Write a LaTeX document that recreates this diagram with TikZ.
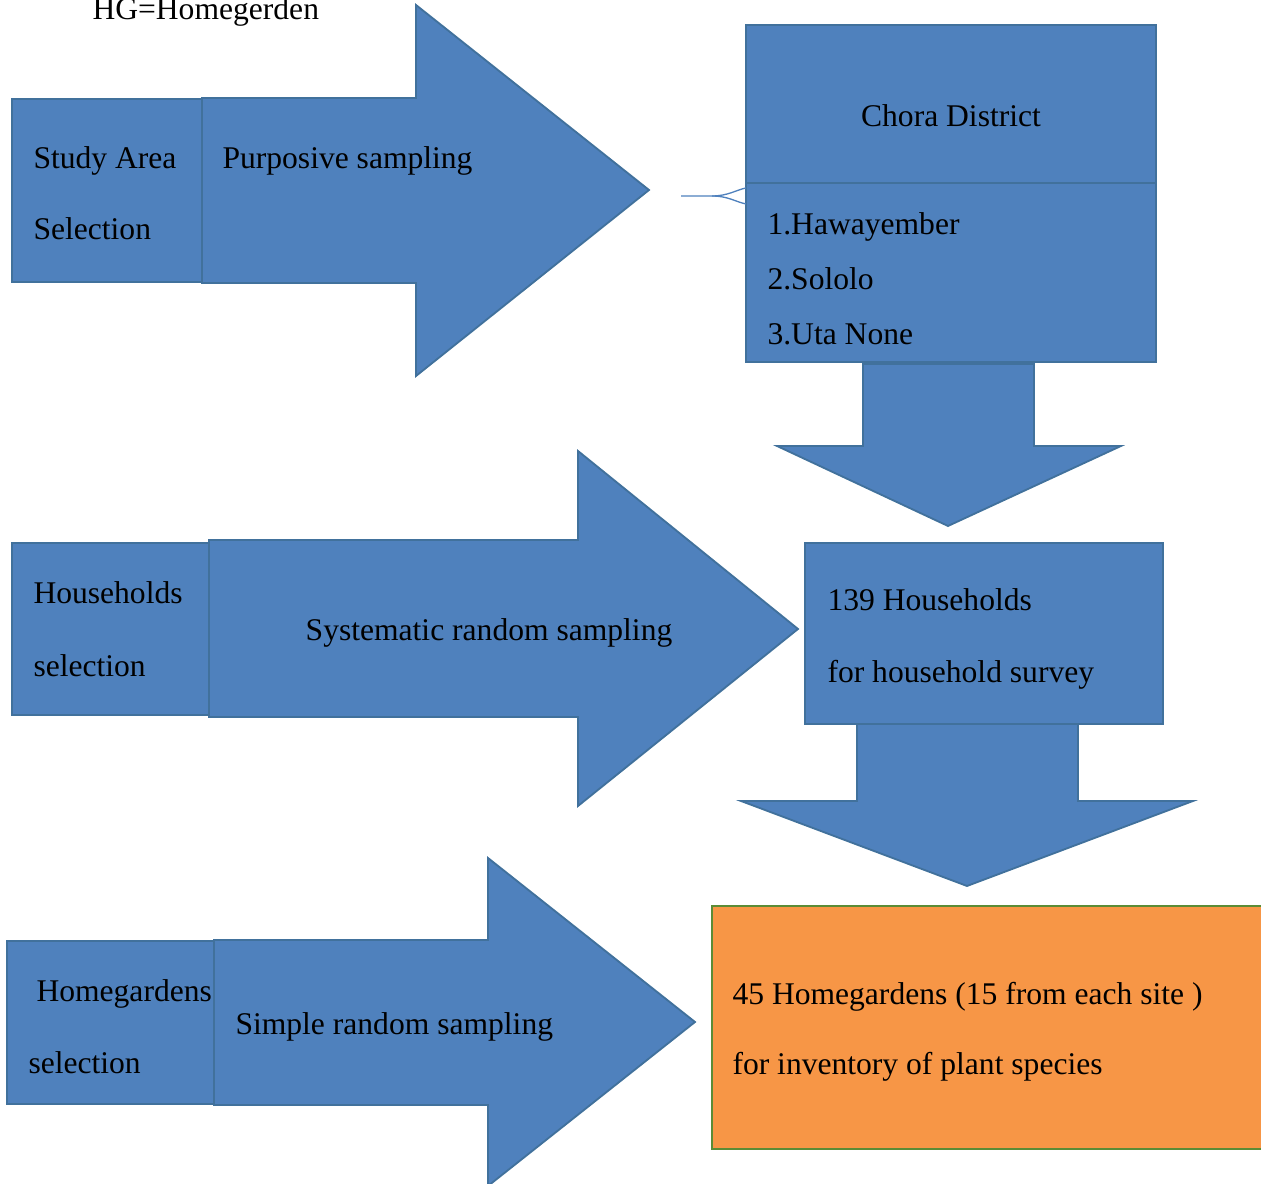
\documentclass[tikz,border=0pt]{standalone}
\usepackage{fontspec}
\setmainfont{Liberation Serif}
\usepackage{xcolor}
\usepackage{tikz}
\usetikzlibrary{positioning}

\definecolor{stepblue}{HTML}{4F81BD}
\definecolor{stepedge}{HTML}{41719C}
\definecolor{resultfill}{HTML}{F79646}
\definecolor{resultedge}{HTML}{5B8C36}

\begin{document}
\begin{tikzpicture}[
    x=0.38pt, y=-0.38pt,
    blockshape/.style={fill=stepblue, draw=stepedge, line width=0.7pt, line join=miter},
    resultbox/.style={fill=resultfill, draw=resultedge, line width=0.9pt},
    label/.style={inner sep=0pt, anchor=base west, font=\fontsize{12}{14}\selectfont},
    midlabel/.style={label, anchor=base}
]
    \useasboundingbox (0,0) rectangle (1261,1184);

    % Note
    \node[label] (Note) at (92,20) {HG=Homegerden};

    % Row 1: study area
    \draw[blockshape] (12,99) rectangle (202,282);
    \draw[blockshape] (202,98) -- (416,98) -- (416,5) -- (649,190) -- (416,376) -- (416,283) -- (202,283) -- cycle;
    \node[label] (StudyA) at (33,169) {Study Area};
    \node[label] (StudyB) at (33,240) {Selection};
    \node[label] (Purposive) at (222,169) {Purposive sampling};

    \draw[blockshape] (746,25) rectangle (1156,183);
    \draw[blockshape] (746,183) rectangle (1156,362);
    \node[midlabel] (Chora) at (951,127) {Chora District};
    \node[label] (SiteA) at (767,235) {1.Hawayember};
    \node[label] (SiteB) at (767,290) {2.Sololo};
    \node[label] (SiteC) at (767,345) {3.Uta None};

    \coordinate (Hook) at (681,196);
    \draw[stepblue, line width=0.5pt] (Hook) -- (712,196) .. controls (728,196) and (736,190) .. (746,188);
    \draw[stepblue, line width=0.5pt] (712,196) .. controls (728,196) and (736,202) .. (746,204);

    % Down arrow 1
    \draw[blockshape] (863,364) -- (1034,364) -- (1034,446) -- (1121,446) -- (948,526) -- (777,446) -- (863,446) -- cycle;

    % Row 2: households
    \draw[blockshape] (12,543) rectangle (209,715);
    \draw[blockshape] (209,540) -- (578,540) -- (578,451) -- (798,629) -- (578,806) -- (578,717) -- (209,717) -- cycle;
    \node[label] (HouseA) at (33,604) {Households};
    \node[label] (HouseB) at (33,677) {selection};
    \node[midlabel] (Systematic) at (489,641) {Systematic random sampling};

    \draw[blockshape] (805,543) rectangle (1163,724);
    \node[label] (CountA) at (827,611) {139 Households};
    \node[label] (CountB) at (827,683) {for household survey};

    % Down arrow 2
    \draw[blockshape] (857,724) -- (1078,724) -- (1078,801) -- (1193,801) -- (967,886) -- (741,801) -- (857,801) -- cycle;

    % Row 3: homegardens
    \draw[blockshape] (7,941) rectangle (214,1104);
    \draw[blockshape] (214,940) -- (488,940) -- (488,858) -- (695,1022) -- (488,1186) -- (488,1105) -- (214,1105) -- cycle;
    \node[label] (GardenA) at (36,1002) {Homegardens};
    \node[label] (GardenB) at (28,1074) {selection};
    \node[label] (Simple) at (235,1035) {Simple random sampling};

    \draw[resultbox] (712,906) rectangle (1275,1149);
    \node[label] (ResultA) at (732,1005) {45 Homegardens (15 from each site )};
    \node[label] (ResultB) at (732,1075) {for inventory of plant species};

\end{tikzpicture}
\end{document}
